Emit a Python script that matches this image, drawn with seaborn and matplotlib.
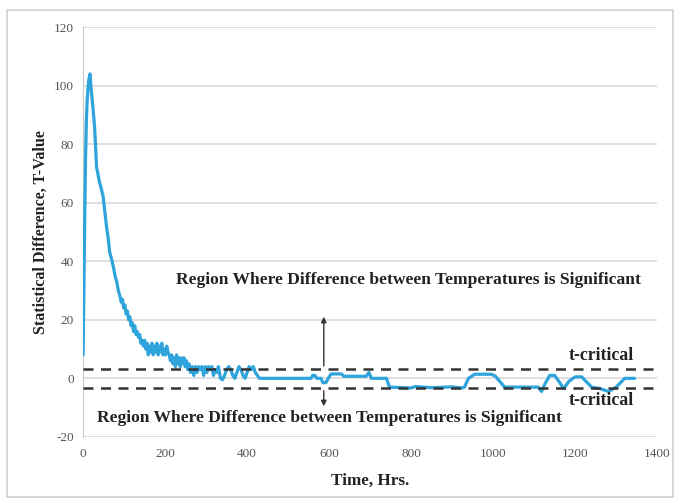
import numpy as np
import pandas as pd
import matplotlib.pyplot as plt
import seaborn as sns
from matplotlib.patches import Rectangle

# T-value vs time
hours = [0, 2, 4, 6, 8, 10, 12, 14, 17, 19, 21, 23, 25, 28, 31, 33, 36, 40, 44, 49,
         53, 57, 61, 65, 69, 74, 78, 82, 86, 90, 93, 96, 99, 102, 105, 108, 111, 114, 117, 120,
         123, 126, 129, 132, 135, 138, 141, 144, 147, 150, 153, 156, 159, 162, 165, 168, 171, 174, 177, 180,
         183, 186, 189, 192, 195, 198, 201, 204, 207, 210, 213, 216, 219, 222, 225, 228, 231, 234, 237, 240,
         243, 246, 249, 252, 255, 258, 262, 266, 270, 274, 278, 282, 286, 290, 294, 298, 302, 306, 310, 314,
         318, 322, 326, 330, 335, 340, 345, 350, 355, 360, 365, 370, 375, 380, 385, 390, 395, 400, 405, 410,
         415, 420, 425, 430, 440, 556, 560, 565, 570, 580, 585, 592, 598, 605, 630, 636, 690, 697, 703, 740,
         747, 800, 810, 850, 900, 925, 930, 940, 955, 995, 1005, 1028, 1110, 1118, 1126, 1138, 1150, 1160, 1172, 1185,
         1200, 1216, 1240, 1260, 1282, 1300, 1321, 1345]
t_value = [8, 30, 55, 75, 88, 95, 99, 102, 104, 100, 97, 94, 91, 86, 78, 72, 70, 67, 65, 62,
           57, 52, 48, 43, 41, 38, 35, 33, 30, 28, 26, 27, 24, 25, 22, 23, 20, 21, 18, 19,
           16, 18, 15, 16, 14, 15, 12, 13, 11, 13, 10, 12, 8, 11, 9, 12, 8, 11, 9, 12,
           8, 11, 9, 12, 8, 10, 8, 11, 9, 8, 6, 8, 5, 7, 4, 8, 5, 7, 4, 7,
           5, 7, 4, 6, 3, 5, 2, 4, 1, 4, 2, 4, 3, 4, 1, 4, 2, 4, 3, 4,
           1, 3, 2, 4, 0, -0.5, 1, 3, 4, 3, 1, 0, 2, 4, 3, 1, 0, 2, 4, 3,
           4, 2, 1, 0, 0, 0, 1, 1, 0, 0, -1.5, -1.5, 0, 1.5, 1.5, 0.7, 0.7, 2, 0, 0,
           -3, -3.3, -2.8, -3.2, -2.9, -3.3, -3, 0, 1.4, 1.4, 0.8, -3, -3, -4.5, -2, 1, 1, -1, -3.5, -1,
           0.5, 0.5, -3, -3.5, -4.5, -3, 0, 0]

t_crit_up = 3.3
t_crit_low = -3.3

df = pd.DataFrame({'Hours': hours, 'T': t_value})

sns.set_style('white')
plt.rcParams['font.family'] = ['Liberation Serif', 'DejaVu Serif']
plt.rcParams['axes.unicode_minus'] = False

fig = plt.figure(figsize=(6.81, 5.01), dpi=100)
ax = fig.add_axes([0.122, 0.128, 0.843, 0.818])

# light frame round the whole chart
fig.patches.append(Rectangle((0.010, 0.008), 0.978, 0.972, transform=fig.transFigure,
                             fill=False, edgecolor='#d0d0d0', linewidth=1.2))

for yv in range(-20, 121, 20):
    ax.axhline(yv, color='#d6d6d6', lw=1.1, zorder=0)

sns.lineplot(data=df, x='Hours', y='T', sort=False, estimator=None,
             color='#2ea3dc', lw=2.3, ax=ax, zorder=3)

ax.axhline(t_crit_up, color='#333333', lw=1.8, ls=(0, (4, 3)), zorder=4)
ax.axhline(t_crit_low, color='#333333', lw=1.8, ls=(0, (4, 3)), zorder=4)

# arrows pointing into the significant regions
ax.annotate('', xy=(587, 22), xytext=(587, t_crit_up),
            arrowprops=dict(arrowstyle='-|>', color='#333333', lw=1, mutation_scale=8))
ax.annotate('', xy=(587, -10.5), xytext=(587, t_crit_low),
            arrowprops=dict(arrowstyle='-|>', color='#333333', lw=1, mutation_scale=8))

txt = 'Region Where Difference between Temperatures is Significant'
ax.text(793, 33.5, txt, ha='center', va='center', fontsize=12.6, fontweight='bold', color='#222222')
ax.text(600, -13.5, txt, ha='center', va='center', fontsize=12.6, fontweight='bold', color='#222222')
ax.text(1265, 7.8, 't-critical', ha='center', va='center', fontsize=12.8, fontweight='bold', color='#222222')
ax.text(1265, -7.6, 't-critical', ha='center', va='center', fontsize=12.8, fontweight='bold', color='#222222')

ax.set_xlim(0, 1400)
ax.set_ylim(-20, 120)
ax.set_xticks(range(0, 1401, 200))
ax.set_yticks(range(-20, 121, 20))
ax.set_yticks(range(-20, 121, 4), minor=True)
ax.tick_params(axis='both', labelsize=9.5, labelcolor='#555555', colors='#aaaaaa')
ax.tick_params(axis='y', which='both', direction='out', length=3, width=0.8)
ax.tick_params(axis='x', length=0, pad=8)

for s in ['top', 'right', 'bottom']:
    ax.spines[s].set_visible(False)
ax.spines['left'].set_color('#c8c8c8')

ax.set_xlabel('Time, Hrs.', fontsize=12.3, fontweight='bold', color='#222222', labelpad=9)
ax.set_ylabel('Statistical Difference, T-Value', fontsize=11.6, fontweight='bold', color='#222222', labelpad=4)

fig.savefig('out.png', dpi=100)
